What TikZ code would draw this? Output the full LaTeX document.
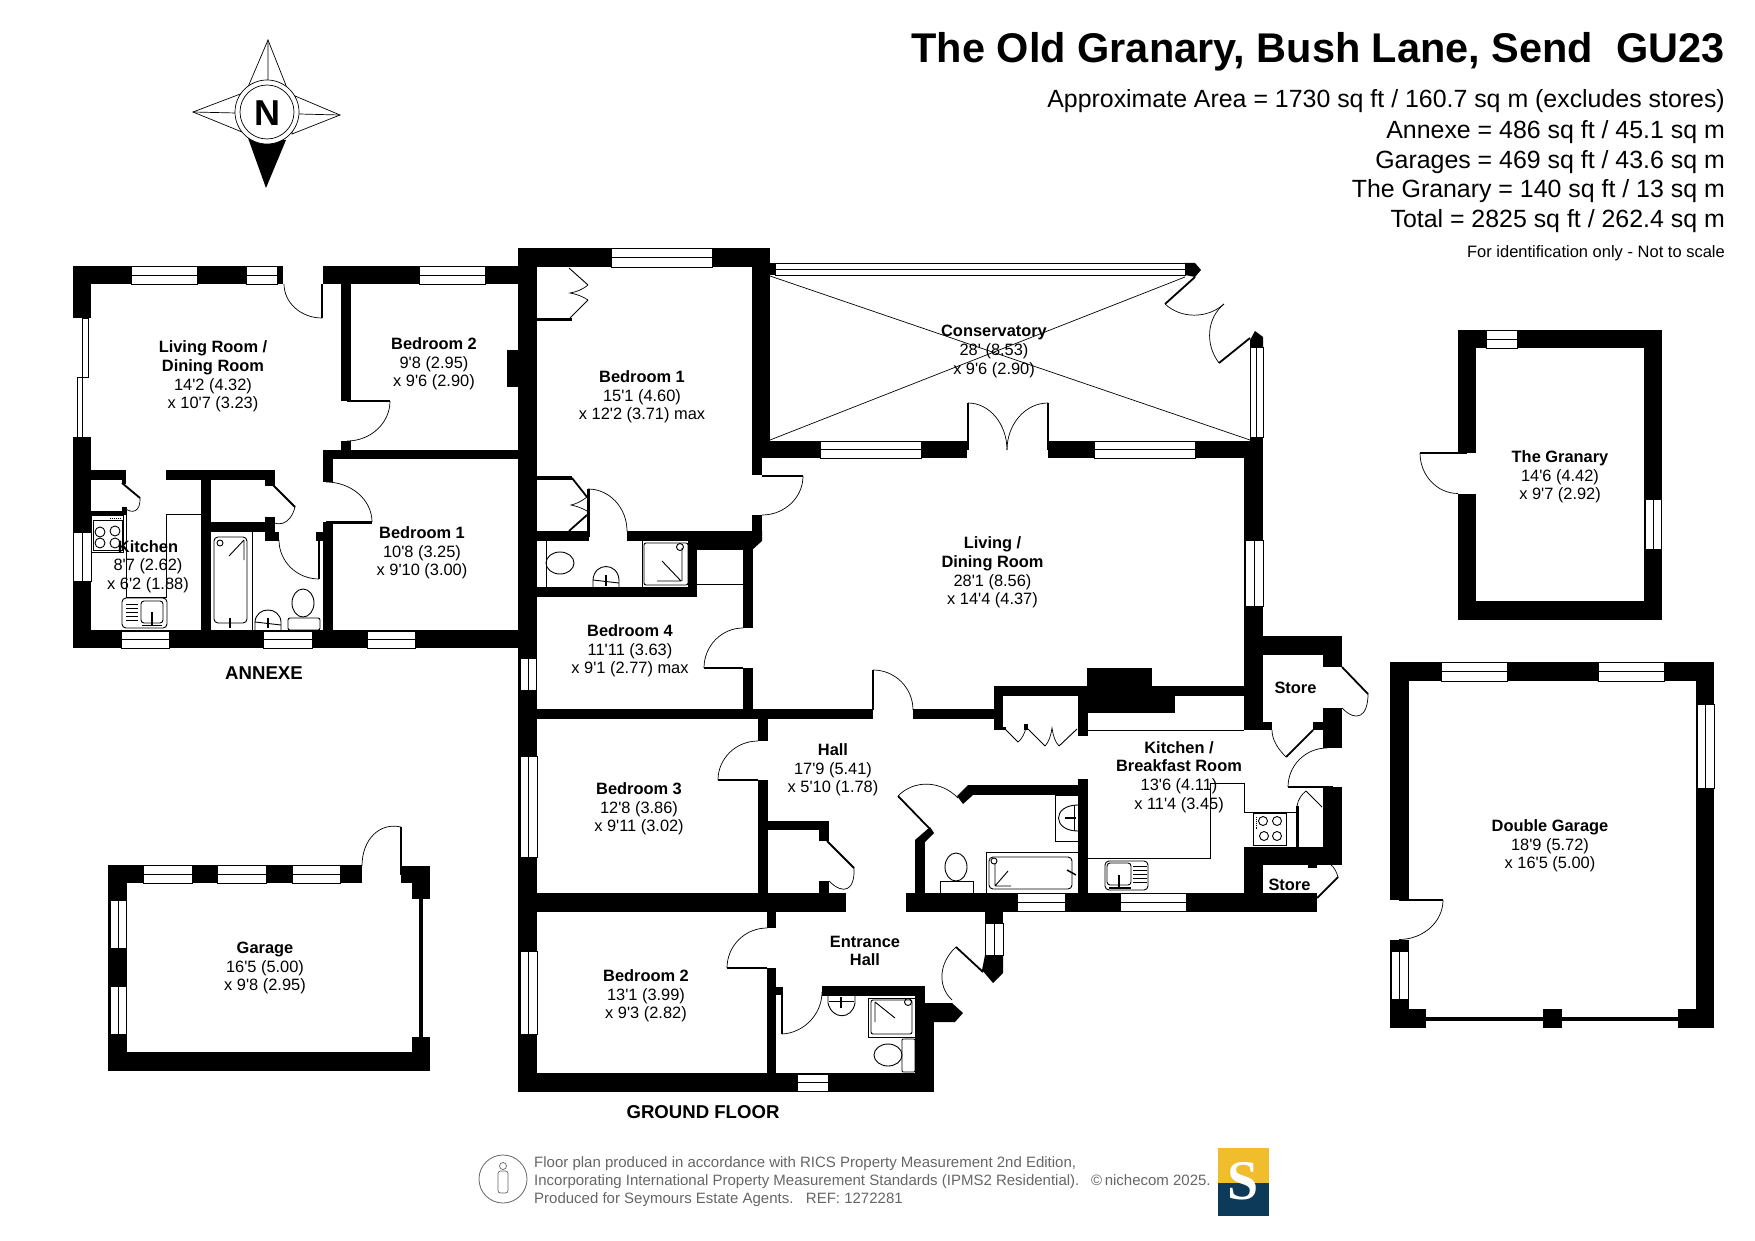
\documentclass[tikz,border=0pt]{standalone}
\usepackage{fontspec}
\usetikzlibrary{calc}
\newfontfamily\planfont{Liberation Sans}
\newfontfamily\logofont{Liberation Serif}
\definecolor{footgrey}{HTML}{666666}
\definecolor{logoyellow}{HTML}{F0BE2C}
\definecolor{logonavy}{HTML}{0D3A58}
\newcommand{\Wl}[4]{\fill[black] (#1,#2) rectangle (#3,#4);}
\newcommand{\WinH}[4]{\draw[fixture,fill=white] (#1,#2) rectangle (#3,#4); \draw[fixture] (#1,{(#2+#4)/2}) -- (#3,{(#2+#4)/2});}
\newcommand{\WinV}[4]{\draw[fixture,fill=white] (#1,#2) rectangle (#3,#4); \draw[fixture] ({(#1+#3)/2},#2) -- ({(#1+#3)/2},#4);}
\newcommand{\Dr}[3]{\coordinate (dc) at ($(#2)+(#3)-(#1)$);
  \draw[leaf] (#1) -- (#2);
  \draw[swing] (#2) .. controls ($(#2)!0.552!(dc)$) and ($(#3)!0.552!(dc)$) .. (#3);}
\tikzset{
  fixture/.style={line width=0.9pt,draw=black},
  swing/.style={line width=0.7pt,draw=black},
  leaf/.style={line width=1.8pt,draw=black},
  room/.style={align=center,inner sep=0pt,font=\planfont\fontsize{16.4}{18.6}\selectfont},
  plantitle/.style={anchor=base east,inner sep=0pt,font=\planfont\bfseries\fontsize{41.5}{44}\selectfont},
  arealine/.style={anchor=base east,inner sep=0pt,font=\planfont\fontsize{24.9}{28}\selectfont},
  floorname/.style={inner sep=0pt,font=\planfont\bfseries\fontsize{18.6}{20}\selectfont},
  footline/.style={anchor=base west,inner sep=0pt,text=footgrey,font=\planfont\fontsize{15}{18}\selectfont},
}
\begin{document}
\begin{tikzpicture}[x=1pt,y=-1pt]
\useasboundingbox (0,0) rectangle (1755,1241);
\fill[white] (0,0) rectangle (1755,1241);

% ---------- compass
\fill[black] (248,138) -- (286,140) -- (266,188) -- cycle;
\draw[swing,fill=white] (268,40) -- (248,87) -- (287,88) -- cycle;
\draw[swing,fill=white] (193,112) -- (243,93) -- (242,132) -- cycle;
\draw[swing,fill=white] (340,115) -- (295,96) -- (292,134) -- cycle;
\draw[swing] (268,40) -- (268,82) (193,112) -- (236,113) (340,115) -- (299,114);
\draw[swing,fill=white] (267,112) circle (32);
\draw[swing] (267,112) circle (27);
\node (north) [inner sep=0pt,font=\planfont\bfseries\fontsize{36}{38}\selectfont] at (267,113.5) {N};

% ---------- annexe walls
\Wl{73}{266}{283}{284} \Wl{73}{266}{91}{318}
\Wl{323}{266}{519}{284}
\Wl{341}{284}{351}{401} \Wl{341}{441}{351}{450}
\Wl{323}{450}{519}{459} \Wl{323}{450}{333}{482}
\Wl{323}{522}{333}{630}
\Wl{316}{532}{323}{541}
\Wl{333}{521}{372}{524}
\Wl{73}{437}{91}{648}
\Wl{73}{630}{519}{648}
\Wl{91}{470}{126}{480} \Wl{122}{480}{126}{484}
\Wl{166}{470}{275}{480} \Wl{265}{480}{275}{486}
\Wl{201}{480}{211}{630}
\Wl{211}{522}{265}{532} \Wl{265}{517}{275}{532} \Wl{265}{532}{279}{541}
\Wl{91}{511}{126}{515} \Wl{122}{507}{126}{515}
\Wl{507}{350}{519}{387}
\WinH{131}{266.5}{197}{284}
\WinH{246}{266.5}{277}{284}
\WinH{419}{266.5}{485}{284}
\WinH{121}{631}{169}{648}
\WinH{263}{631}{312}{648}
\WinH{367}{631}{415}{648}
\WinV{73.5}{532}{91}{581}
\draw[fixture] (82,318) rectangle (88,377);
\draw[fixture] (77,377) rectangle (82,437);

% ---------- main house walls
\Wl{518}{248}{537}{1092}
\Wl{518}{248}{770}{267}
\Wl{752}{267}{770}{458}
\Wl{752}{458}{762}{475}
\Wl{752}{515}{762}{541}
\Wl{627}{531}{762}{541}
\Wl{537}{531}{589}{541}
\Wl{688}{541}{752}{550}
\Wl{688}{541}{697}{597}
\Wl{537}{587}{697}{597}
\Wl{743}{548}{753}{628} \Wl{743}{668}{753}{710}
\fill[black] (743,550) -- (762,531) -- (762,541) -- (752,550) -- cycle;
\Wl{537}{318}{572}{321}
\Wl{537}{476}{572}{480}
\Wl{586.5}{489}{589.5}{537}
\draw[fixture] (697,584) -- (743,584);

% conservatory
\Wl{770}{441}{967}{458}
\Wl{1048}{441}{1263}{458}
\Wl{1244}{441}{1263}{730}
\Wl{1250}{437}{1263}{441}
\Wl{770}{263}{775}{275}
\WinH{775}{263}{1185}{275}
\fill[black] (1185,263) -- (1195,263) -- (1201,270) -- (1195,277) -- (1185,275) -- cycle;
\WinV{1250}{347}{1263}{437}
\fill[black] (1250,347) -- (1250,340) -- (1255,331) -- (1263,337) -- (1263,347) -- cycle;
\draw[swing] (770,276) -- (1250,440) (770,440) -- (1185,277);

\WinH{611}{248.5}{712}{267}
\WinH{820}{441}{921}{458}
\WinH{1094}{441}{1195}{458}
\WinV{1245}{540}{1263}{606}
\WinV{520}{658}{536}{690}
\WinV{520}{756}{537}{857}
\WinV{520}{951}{537}{1034}

% central walls
\Wl{537}{709}{873}{719}
\Wl{913}{709}{994}{719}
\Wl{994}{686}{1003}{730}
\Wl{994}{686}{1244}{696}
\Wl{1087}{668}{1152}{686}
\Wl{1078}{696}{1175}{713}
\Wl{1078}{696}{1088}{736}
\Wl{1003}{727}{1006}{730}
\Wl{1024}{724}{1028}{730}
\draw[fixture] (1088,730) -- (1244,730);
\Wl{758}{719}{768}{741} \Wl{758}{780}{768}{893}
\Wl{768}{821}{829}{830} \Wl{819}{830}{829}{841} \Wl{819}{881}{829}{893}
\Wl{518}{893}{846}{912}
\Wl{906}{893}{1317}{912}
\Wl{767}{912}{776}{928} \Wl{767}{968}{776}{1073}
\Wl{776}{987}{783}{995}
\Wl{822}{986}{925}{996}
\Wl{915}{986}{925}{1022}
\Wl{915}{1022}{934}{1092}
\Wl{518}{1073}{934}{1092}
\fill[black] (925,1003) -- (952,1003) -- (963,1013) -- (955,1022) -- (925,1022) -- cycle;
\Wl{985}{912}{1003}{955}
\fill[black] (985,955) -- (1003,955) -- (1003,973) -- (993,983) -- (982,970) -- cycle;
\WinV{985}{923}{1003}{955}
\WinH{797}{1074}{828}{1091}
% bathroom
\Wl{1078}{779}{1088}{893}
\Wl{968}{785}{1078}{795}
\fill[black] (968,785) -- (957,796) -- (963,804) -- (973,795) -- cycle;
\fill[black] (915,840) -- (930,827) -- (934,833) -- (925,842) -- cycle;
\Wl{915}{840}{925}{893}
\WinH{1017}{893.5}{1065}{911}
\WinH{1120}{893.5}{1186}{911}
% stores
\Wl{1263}{636}{1342}{655} \Wl{1323}{655}{1342}{667}
\Wl{1323}{708}{1342}{748}
\Wl{1313}{722}{1323}{730} \Wl{1263}{722}{1272}{730}
\Wl{1323}{787}{1342}{865}
\Wl{1244}{847}{1342}{865}
\Wl{1244}{847}{1263}{912}
\Wl{1295.5}{806}{1299}{847}
\Wl{1308}{865}{1317}{868}
\Wl{1288}{786}{1333}{788}

% ---------- doors
\Dr{322,284}{322,318}{284,284}
\Dr{347,401}{390,401}{347,441}
\Dr{326,522}{372,522}{326,482}
\Dr{319,540}{319,579}{279,540}
\Dr{273,485}{295,507}{265,517}
\Dr{122,483}{140,498}{123,507}
\Dr{762,476}{803,476}{762,515}
\Dr{588,531}{588,489}{627,531}
\Dr{743,668}{704,668}{743,628}
\Dr{873,710}{873,670}{913,710}
\Dr{968,450}{968,403}{1007,450}
\Dr{1048,450}{1048,403}{1007,450}
\Dr{1195,277}{1165,304}{1224,304}
\Dr{1250,338}{1219,363}{1224,304}
\Dr{1342,667}{1368,694}{1342,708}
\draw[leaf] (1313,730) -- (1286,757);
\draw[swing] (1286,757) .. controls (1278,749) and (1272,740) .. (1272,730);
\Dr{1327,787}{1288,787}{1327,748}
\draw[swing] (1297,806) .. controls (1298,799) and (1302,794) .. (1306,791);
\draw[fixture] (1306,791) -- (1322,807);
\Dr{1317,898}{1338,877}{1308,867}
\Dr{929,828}{898,796}{958,798}
\Dr{758,780}{718,780}{758,741}
\Dr{827,841}{854,868}{829,881}
\Dr{767,968}{727,968}{767,928}
\Dr{782,994}{782,1034}{822,992}
\Dr{983,972}{956,947}{952,1000}
% bifold cupboards, bedroom 1
\draw[fixture] (569,268) -- (588,285);
\draw[swing] (588,285) .. controls (582,290) and (576,292) .. (570,293) .. controls (576,294) and (582,296) .. (588,300);
\draw[fixture] (588,300) -- (570,318);
\draw[leaf] (572,478) -- (587,497);
\draw[swing] (587,497) .. controls (582,501) and (576,504) .. (571,505) .. controls (576,506) and (582,508) .. (587,511);
\draw[leaf] (587,515) -- (569,531);
% bifold cupboard, hall
\draw[fixture] (1005,729) -- (1018,742) (1028,729) -- (1045,746) (1059,746) -- (1077,729);
\draw[swing] (1018,742) .. controls (1022,739) and (1025,733) .. (1026,727);
\draw[swing] (1045,746) .. controls (1049,742) and (1051,735) .. (1052,728) .. controls (1053,735) and (1055,742) .. (1059,746);

% ---------- annexe fittings
\draw[fixture] (126,507) -- (126,597) -- (166,597) -- (166,514) -- (201,514);
% cooker
\draw[fixture] (91,515) rectangle (123,552);
\draw[fixture] (93,520) rectangle (122,550);
\foreach \cx/\cy in {100/532,115/531,100/543,115/543}{\draw[fixture] (\cx,\cy) circle (5);}
\draw[fixture,densely dotted] (110,518) -- (121,518);
% sink
\draw[fixture,rounded corners=4pt] (122,598) rectangle (167,628);
\draw[fixture,rounded corners=3pt] (141,601) rectangle (163,623);
\foreach \yy in {604,608,612,616,620}{\draw[fixture] (126,\yy) -- (138,\yy);}
\draw[line width=1.5pt] (152,612) -- (152,626) (142,625.5) -- (162,625.5);
% bath
\draw[fixture] (252,532) -- (252,630);
\draw[fixture,rounded corners=4pt] (214,537) rectangle (247,623);
\draw[fixture] (220,543) circle (3) (244,540) -- (229,556) (244,540) -- (244,560);
\draw[line width=1.5pt] (230,618) -- (230,628);
% basin
\draw[fixture] (255,630) -- (255,622) .. controls (256,606) and (280,606) .. (281,622) -- (281,630);
\draw[fixture] (255,622) -- (281,625);
\draw[line width=1.5pt] (268,618) -- (268,628);
% toilet
\draw[fixture,rounded corners=2pt] (288,630) rectangle (320,618);
\draw[fixture] (303,603) ellipse (11 and 14);

% ---------- main house fittings
% en-suite bedroom 1
\draw[fixture] (546,541) -- (546,587);
\draw[fixture] (560,563) ellipse (14 and 11);
\draw[fixture] (593,587) -- (593,580) .. controls (594,562) and (618,562) .. (619,580) -- (619,587);
\draw[fixture] (593,580) -- (619,583);
\draw[line width=1.5pt] (606,575) -- (606,586);
\draw[fixture] (642,541) -- (642,587);
\draw[fixture,rounded corners=2pt] (644,543) rectangle (688,585);
\draw[fixture] (680,547) circle (3.5) (662,561) -- (681,581) (681,581) -- (657,581) (682,548) -- (682,581);
% entrance shower room
\draw[fixture] (868,998) rectangle (915,1037);
\draw[fixture,rounded corners=2pt] (871,1000) rectangle (912,1034);
\draw[fixture] (908,1002) circle (3.5) (875,1002) -- (895,1018) (875,1002) -- (875,1022);
\draw[fixture,rounded corners=1pt] (902,1039) rectangle (915,1072);
\draw[fixture] (888,1055) ellipse (14 and 11);
\draw[fixture] (828,996) -- (828,1003) .. controls (832,1020) and (852,1020) .. (855,1003) -- (855,996);
\draw[fixture] (829,1001) -- (854,1001);
\draw[line width=1.5pt] (841,997) -- (841,1008);
% bathroom
\draw[fixture] (940,893) -- (940,881) -- (973,881) -- (973,893);
\draw[fixture] (956,867) ellipse (11 and 14);
\draw[fixture] (986,893) -- (986,852) -- (1078,852);
\draw[fixture,rounded corners=4pt] (989,857) rectangle (1072,889);
\draw[fixture] (994,861) circle (3) (995,886) -- (1008,871) (995,886) -- (1011,886) (995,886) -- (995,863);
\draw[line width=1.5pt] (1067,870) -- (1076,875);
\draw[fixture] (1078,795) -- (1055,795) -- (1055,841) -- (1078,841);
\draw[fixture] (1078,805) .. controls (1052,805) and (1052,831) .. (1078,831);
\draw[fixture] (1074,805) -- (1074,831);
\draw[line width=1.5pt] (1065,818) -- (1076,818);
% kitchen
\draw[fixture] (1088,858) -- (1210,858) -- (1210,783) -- (1244,783) -- (1244,812) -- (1297,812);
\draw[fixture] (1253,813) rectangle (1286,845);
\foreach \cx/\cy in {1263/821,1277/821,1264/836,1277/836}{\draw[fixture] (\cx,\cy) circle (4.5);}
\draw[fixture,densely dotted] (1256,817) -- (1256,829);
\draw[fixture,rounded corners=4pt] (1105,861) rectangle (1148,890);
\draw[fixture,rounded corners=3pt] (1107,863) rectangle (1131,885);
\foreach \yy in {866,870,874,878,882}{\draw[fixture] (1133,\yy) -- (1147,\yy);}
\draw[line width=1.5pt] (1119,875) -- (1119,888) (1109,888) -- (1131,888);

% ---------- the granary
\fill[black] (1458,330) rectangle (1662,619.5);
\fill[white] (1476,348) rectangle (1644,601);
\fill[white] (1458,453) rectangle (1476,493.5);
\WinH{1486}{330.5}{1517}{348}
\WinV{1645}{499.5}{1661}{549}
\Dr{1458,453}{1420,453}{1458,493.5}
\draw[leaf] (1458,453) -- (1467,453);

% ---------- double garage
\fill[black] (1390,662) rectangle (1714,1028);
\fill[white] (1409,681) rectangle (1696,1009);
\fill[white] (1409,1009) rectangle (1696,1028);
\fill[white] (1390,900) rectangle (1409,939.5);
\Wl{1390}{1009}{1426}{1028}
\Wl{1543}{1009}{1562}{1028}
\Wl{1678}{1009}{1714}{1028}
\Wl{1426}{1017}{1678}{1021}
\WinH{1441}{662.5}{1507}{681}
\WinH{1598}{662.5}{1664}{681}
\WinV{1697}{704}{1714}{788}
\WinV{1391}{951}{1408}{999}
\Dr{1399,900}{1443,900}{1399,939.5}

% ---------- garage
\fill[black] (108,865) rectangle (362,883);
\Wl{108}{865}{127}{1071}
\Wl{108}{1052}{430}{1071}
\Wl{412}{1037}{430}{1071}
\Wl{401}{866}{430}{883}
\Wl{412}{883}{430}{899}
\Wl{419}{899}{423}{1037}
\WinH{143}{865.5}{192}{883}
\WinH{217}{865.5}{266}{883}
\WinH{292}{865.5}{340}{883}
\WinV{110}{900}{126}{948}
\WinV{110}{986}{126}{1034}
\Dr{401,875}{401,827}{362,866}

% ---------- room labels
\node (rLiving) [room] at (213,376.5) {\textbf{Living Room /}\\\textbf{Dining Room}\\14'2 (4.32)\\x 10'7 (3.23)};
\node (rAnBed2) [room] at (434,364) {\textbf{Bedroom 2}\\9'8 (2.95)\\x 9'6 (2.90)};
\node (rAnBed1) [room] at (422,553) {\textbf{Bedroom 1}\\10'8 (3.25)\\x 9'10 (3.00)};
\node (rAnKit) [room] at (148,566.5) {\textbf{Kitchen}\\8'7 (2.62)\\x 6'2 (1.88)};
\node (rBed1) [room] at (642,397) {\textbf{Bedroom 1}\\15'1 (4.60)\\x 12'2 (3.71) max};
\node (rBed4) [room] at (630,651) {\textbf{Bedroom 4}\\11'11 (3.63)\\x 9'1 (2.77) max};
\node (rCons) [room] at (994,351.5) {\textbf{Conservatory}\\28' (8.53)\\x 9'6 (2.90)};
\node (rLivDin) [room] at (992.5,572.5) {\textbf{Living /}\\\textbf{Dining Room}\\28'1 (8.56)\\x 14'4 (4.37)};
\node (rHall) [room] at (833,770) {\textbf{Hall}\\17'9 (5.41)\\x 5'10 (1.78)};
\node (rBed3) [room] at (639,809) {\textbf{Bedroom 3}\\12'8 (3.86)\\x 9'11 (3.02)};
\node (rEntr) [room] at (865,951) {\textbf{Entrance}\\\textbf{Hall}};
\node (rBed2) [room] at (646,996) {\textbf{Bedroom 2}\\13'1 (3.99)\\x 9'3 (2.82)};
\node (rKit) [room] at (1179,777) {\textbf{Kitchen /}\\\textbf{Breakfast Room}\\13'6 (4.11)\\x 11'4 (3.45)};
\node (rStoreA) [room] at (1295.5,688) {\textbf{Store}};
\node (rStoreB) [room] at (1289.5,884.5) {\textbf{Store}};
\node (rGran) [room] at (1560,477) {\textbf{The Granary}\\14'6 (4.42)\\x 9'7 (2.92)};
\node (rDbl) [room] at (1550,846) {\textbf{Double Garage}\\18'9 (5.72)\\x 16'5 (5.00)};
\node (rGar) [room] at (265,968) {\textbf{Garage}\\16'5 (5.00)\\x 9'8 (2.95)};
\node (fAnnexe) [floorname] at (264,673.5) {ANNEXE};
\node (fGround) [floorname] at (703,1112) {GROUND FLOOR};

% ---------- heading
\node (title) [plantitle] at (1725,63) {The Old Granary, Bush Lane, Send\ \ GU23};
\node (a1) [arealine] at (1725,107.5) {Approximate Area = 1730 sq ft / 160.7 sq m (excludes stores)};
\node (a2) [arealine] at (1725,138.5) {Annexe = 486 sq ft / 45.1 sq m};
\node (a3) [arealine] at (1725,168.5) {Garages = 469 sq ft / 43.6 sq m};
\node (a4) [arealine] at (1725,198) {The Granary = 140 sq ft / 13 sq m};
\node (a5) [arealine] at (1725,228) {Total = 2825 sq ft / 262.4 sq m};
\node (a6) [anchor=base east,inner sep=0pt,font=\planfont\fontsize{16.5}{18}\selectfont] at (1725,257.5) {For identification only - Not to scale};

% ---------- footer
\draw[footgrey,line width=0.8pt] (503,1179) ellipse (24 and 24);
\draw[footgrey,line width=0.7pt] (503,1166) circle (3.5);
\draw[footgrey,line width=0.7pt,rounded corners=2.5pt] (498,1171) rectangle (508,1193);
\node (f1) [footline] at (534,1167.5) {Floor plan produced in accordance with RICS Property Measurement 2nd Edition,};
\node (f2) [footline] at (534,1185.5) {Incorporating International Property Measurement Standards (IPMS2 Residential).};
\node (f3) [footline] at (534,1203.5) {Produced for Seymours Estate Agents.\ \ \ REF: 1272281};
\node (f4) [footline] at (1091,1185.5) {©\,nichecom 2025.};
\fill[logoyellow] (1218,1148) rectangle (1269,1183);
\fill[logonavy] (1218,1183) rectangle (1269,1216);
\node (logoS) [inner sep=0pt,text=white,font=\logofont\bfseries\fontsize{56}{58}\selectfont] at (1243,1181) {S};
\end{tikzpicture}
\end{document}
